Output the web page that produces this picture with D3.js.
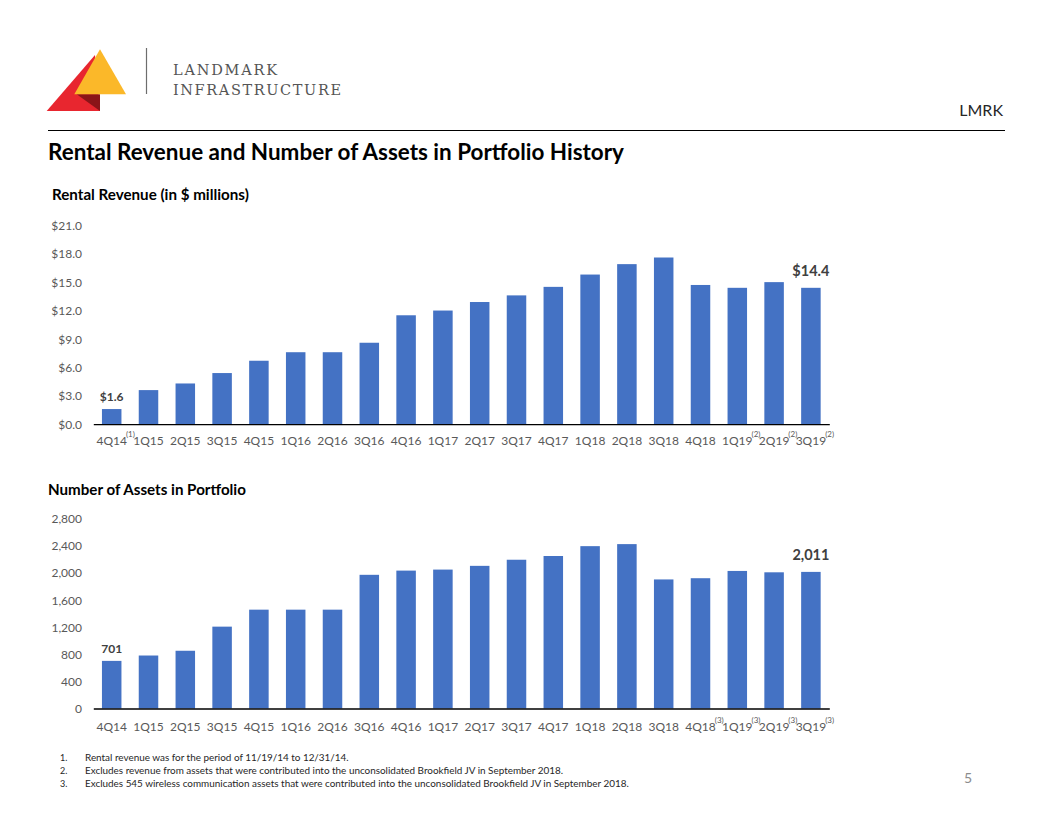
<!DOCTYPE html>
<html>
<head>
<meta charset="utf-8">
<script src="https://cdn.jsdelivr.net/npm/d3@7"></script>
<style>
  html, body { margin: 0; padding: 0; background: #fff; }
  svg { display: block; }
  text { font-family: Lato, "Open Sans", sans-serif; }
</style>
</head>
<body>
<div id="chart"></div>
<script>
// ---------- data ----------
const quarters = ["4Q14","1Q15","2Q15","3Q15","4Q15","1Q16","2Q16","3Q16","4Q16","1Q17","2Q17","3Q17","4Q17","1Q18","2Q18","3Q18","4Q18","1Q19","2Q19","3Q19"];
const revenue = [1.6,3.6,4.3,5.4,6.7,7.6,7.6,8.6,11.5,12.0,12.9,13.6,14.5,15.8,16.9,17.6,14.7,14.4,15.0,14.4];
const assets = [701,780,850,1205,1455,1455,1455,1968,2030,2045,2100,2190,2245,2390,2420,1900,1918,2025,2005,2011];
const revenueTicks = [0,3,6,9,12,15,18,21];
const assetTicks = [0,400,800,1200,1600,2000,2400,2800];
const revenueNotes = {"4Q14":"(1)","1Q19":"(2)","2Q19":"(2)","3Q19":"(2)"};
const assetNotes = {"4Q18":"(3)","1Q19":"(3)","2Q19":"(3)","3Q19":"(3)"};
const revenueLabels = {"4Q14":"$1.6","3Q19":"$14.4"};
const assetLabels = {"4Q14":"701","3Q19":"2,011"};
const footnotes = [
  "Rental revenue was for the period of 11/19/14 to 12/31/14.",
  "Excludes revenue from assets that were contributed into the unconsolidated Brookfield JV in September 2018.",
  "Excludes 545 wireless communication assets that were contributed into the unconsolidated Brookfield JV in September 2018."
];

// ---------- setup ----------
const W = 1056, H = 816;
const svg = d3.select("#chart").append("svg").attr("width", W).attr("height", H);
const BAR = "#4472C4", TICK = "#595959", LABEL = "#404040";

function fitWidth(sel, target) {
  const node = sel.node();
  const fs = parseFloat(sel.attr("font-size"));
  const w = node.getComputedTextLength();
  if (w > 0) sel.attr("font-size", (fs * target / w).toFixed(2));
  return sel;
}

// ---------- header ----------
const logo = svg.append("g");
logo.append("polygon").attr("points", "95,55 46.7,111 100,111").attr("fill", "#E8262F");
logo.append("polygon").attr("points", "76.7,94.3 100,94.3 100,111").attr("fill", "#8B1418");
logo.append("polygon").attr("points", "100,49.3 74.3,94.3 126,94.3").attr("fill", "#FBB829");
svg.append("line").attr("x1", 146.5).attr("x2", 146.5).attr("y1", 48).attr("y2", 94)
  .attr("stroke", "#6d6d6d").attr("stroke-width", 1.2);
svg.append("text").attr("x", 173).attr("y", 74.5)
  .style("font-family", "'DejaVu Serif', serif")
  .attr("font-size", 14.5).attr("fill", "#555").attr("textLength", 104).attr("lengthAdjust", "spacing")
  .text("LANDMARK");
svg.append("text").attr("x", 173).attr("y", 94.5).style("font-family", "'DejaVu Serif', serif")
  .attr("font-size", 14.5).attr("fill", "#555").attr("textLength", 168).attr("lengthAdjust", "spacing")
  .text("INFRASTRUCTURE");

svg.append("text").attr("x", 1003).attr("y", 116).attr("text-anchor", "end")
  .attr("font-size", 16).attr("fill", "#262626").text("LMRK");
svg.append("line").attr("x1", 48).attr("x2", 1005).attr("y1", 130.5).attr("y2", 130.5)
  .attr("stroke", "#000").attr("stroke-width", 1);

fitWidth(svg.append("text").attr("x", 48).attr("y", 160).attr("font-size", 19).attr("font-weight", 700)
  .attr("fill", "#000").text("Rental Revenue and Number of Assets in Portfolio History"), 576);

fitWidth(svg.append("text").attr("x", 52).attr("y", 200).attr("font-size", 13).attr("font-weight", 700)
  .attr("fill", "#000").text("Rental Revenue (in $ millions)"), 197);
fitWidth(svg.append("text").attr("x", 48).attr("y", 495).attr("font-size", 13).attr("font-weight", 700)
  .attr("fill", "#000").text("Number of Assets in Portfolio"), 198);

// ---------- chart builder ----------
const x = d3.scaleBand().domain(quarters).range([93.3, 829.3]).paddingInner(0.47).paddingOuter(0.235);

function barChart(opts) {
  const g = svg.append("g");
  const y = d3.scaleLinear().domain([opts.ticks[0], opts.ticks[opts.ticks.length - 1]]).range([opts.y0, opts.yTop]);

  const yAxis = d3.axisLeft(y).tickValues(opts.ticks).tickSize(0).tickPadding(0).tickFormat(opts.fmt);
  const ya = g.append("g").attr("transform", "translate(82,0)").call(yAxis);
  ya.select(".domain").remove();
  ya.selectAll("text").attr("fill", TICK).attr("font-size", 12).style("font-family", "Lato, sans-serif").attr("dy", "0.35em");

  g.selectAll("rect.bar").data(opts.values).join("rect").attr("class", "bar")
    .attr("x", (d, i) => x(quarters[i]))
    .attr("width", x.bandwidth())
    .attr("y", d => y(d))
    .attr("height", d => y(0) - y(d))
    .attr("fill", BAR);

  const xAxis = d3.axisBottom(x).tickSize(0).tickPadding(0);
  const xa = g.append("g").attr("transform", `translate(0,${y(0)})`).call(xAxis);
  xa.select(".domain").attr("stroke", "#000").attr("stroke-width", 1.3);
  xa.selectAll("text").attr("fill", TICK).attr("font-size", 12).style("font-family", "Lato, sans-serif")
    .attr("y", opts.labelGap).attr("dy", 0);

  // superscript notes
  xa.selectAll(".tick").each(function(q) {
    const note = opts.notes[q];
    if (!note) return;
    const t = d3.select(this).select("text");
    const w = t.node().getComputedTextLength();
    d3.select(this).append("text").attr("x", w / 2 - 1).attr("y", opts.labelGap - 8)
      .attr("text-anchor", "start").attr("fill", TICK).attr("font-size", 8)
      .style("font-family", "Lato, sans-serif").text(note);
  });

  // data labels
  quarters.forEach((q, i) => {
    const lab = opts.labels[q];
    if (!lab) return;
    const big = i === quarters.length - 1;
    g.append("text").attr("x", x(q) + x.bandwidth() / 2).attr("y", y(opts.values[i]) - (big ? 12 : 8))
      .attr("text-anchor", "middle").attr("font-weight", 700).attr("fill", LABEL)
      .attr("font-size", big ? 14.5 : 12).style("font-family", "Lato, sans-serif").text(lab);
  });
}

barChart({values: revenue, ticks: revenueTicks, y0: 424.2, yTop: 225.3, fmt: d => "$" + d3.format(".1f")(d),
  notes: revenueNotes, labels: revenueLabels, labelGap: 21});
barChart({values: assets, ticks: assetTicks, y0: 708.5, yTop: 518.3, fmt: d3.format(","),
  notes: assetNotes, labels: assetLabels, labelGap: 22});

// ---------- footnotes ----------
const fn = svg.append("g");
const fnTexts = footnotes.map((t, i) => {
  const yy = 761 + i * 13;
  fn.append("text").attr("x", 60).attr("y", yy).attr("font-size", 9).attr("fill", "#262626").text((i + 1) + ".");
  return fn.append("text").attr("x", 85).attr("y", yy).attr("font-size", 9).attr("fill", "#262626").text(t);
});
fitWidth(fnTexts[2], 544);
const fnSize = fnTexts[2].attr("font-size");
fnTexts.forEach(s => s.attr("font-size", fnSize));
svg.append("text").attr("x", 968).attr("y", 783).attr("text-anchor", "middle")
  .attr("font-size", 14).attr("fill", "#8c8c8c").text("5");
</script>
</body>
</html>
